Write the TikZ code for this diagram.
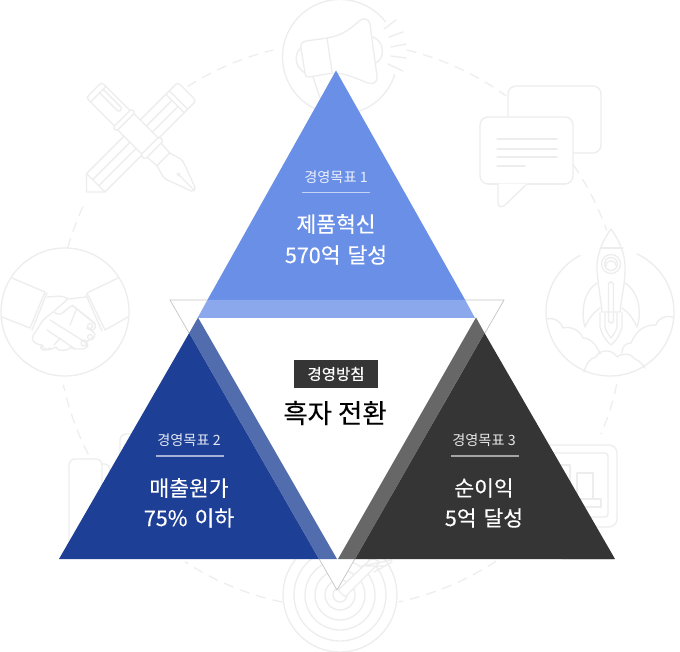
\documentclass[tikz,border=0pt]{standalone}
\usepackage{fontspec}
\newfontfamily\kr{Noto Sans CJK KR}[FakeBold=0.25]
\newfontfamily\krthin{Noto Sans CJK KR}
\newfontfamily\krbold{Noto Sans CJK KR}[FakeBold=0.6]
\newcommand\krbig{\kr\fontsize{21.5}{21.5}\selectfont\spaceskip 7pt\relax}
\definecolor{ic}{HTML}{EDEDED}
\definecolor{bluetop}{HTML}{6A8FE7}
\definecolor{blueband}{HTML}{8CA8EC}
\definecolor{navy}{HTML}{1E3F96}
\definecolor{navyband}{HTML}{526DAE}
\definecolor{coal}{HTML}{353535}
\definecolor{coalband}{HTML}{676767}
\definecolor{vline}{HTML}{C4C4C4}
\tikzset{
  icon/.style={draw=ic,line width=1.3pt,line join=round,line cap=round},
  ringdash/.style={draw=ic,line width=1.2pt,dash pattern=on 10pt off 7pt},
  smalllab/.style={font=\krthin\fontsize{14.2}{14.2}\selectfont,text=#1,inner sep=0pt},
  biglab/.style={font=\krbig,text=white,inner sep=0pt},
  rulel/.style={draw=#1,line width=1.6pt},
}
\begin{document}
\begin{tikzpicture}[x=1pt,y=-1pt]
\useasboundingbox (0,0) rectangle (680,652);
\fill[white] (0,0) rectangle (680,652);
% dashed ring
\foreach \a/\b in {237.4/256.4,195.8/206,152.8/167.8,101.8/123.2,56.5/78,12.1/22.7,-34.5/-19.5,-76.4/-54}
  \draw[ringdash] plot[domain=\a:\b,samples=24] ({340+283*cos(\x)},{325+283*sin(\x)});
% megaphone
\draw[icon] plot[domain=18:322,samples=80] ({340+57.5*cos(\x)},{57+57.5*sin(\x)});
\draw[icon,fill=white] (327,38) -- (306,41) .. controls (302,42) and (300,44) .. (301,48) -- (305,73) .. controls (305,76) and (306,77) .. (309,77) -- (333,73) .. controls (345,73) and (355,78) .. (368,83) .. controls (373,85) and (378,82) .. (377,76) -- (370,24) .. controls (369,19) and (364,17) .. (359,21) .. controls (350,30) and (340,36) .. (327,38) -- cycle;
\draw[icon] (327,38) -- (332,72);
\draw[icon] (301,48) .. controls (295,52) and (293,66) .. (305,73);
\draw[icon] (373,37) .. controls (385,42) and (385,58) .. (376,63);
\draw[icon] (313,77) -- (320,98);
\draw[icon] (384,29) -- (396,20) (389,37) -- (403,32) (391,47) -- (406,44) (391,56) -- (406,58) (388,64) -- (403,71);
% pencil
\begin{scope}[shift={(187,91.5)},rotate=-135]
\draw[icon] (12,-13) -- (3,-13) .. controls (0,-13) and (0,-11) .. (0,-9) -- (0,9) .. controls (0,11) and (0,13) .. (3,13) -- (12,13) -- cycle;
\draw[icon] (12,-13) -- (53,-13) (12,13) -- (53,13) (17,-13) -- (17,13);
\draw[icon] (17,-4.3) -- (53,-4.3) (17,4.3) -- (53,4.3);
\draw[icon] (77,-13) -- (129,-13) -- (142,0) -- (129,13) -- (77,13);
\draw[icon] (77,-4.3) -- (129,-4.3) (77,4.3) -- (129,4.3) (129,-13) -- (129,13);
\end{scope}
% fountain pen
\begin{scope}[shift={(94,90)},rotate=-45]
\draw[icon] (40,-11) -- (3,-11) .. controls (0,-11) and (0,-9) .. (0,-7) -- (0,7) .. controls (0,9) and (0,11) .. (3,11) -- (40,11);
\draw[icon] (6,-11) -- (6,11);
\draw[icon,rounded corners=1.5pt] (6,-7) -- (33,-7) -- (33,-2) -- (6,-2);
\draw[icon,rounded corners=1.5pt] (40,-13) rectangle (45,13);
\draw[icon] (45,-11.5) -- (79,-11.5) (45,11.5) -- (79,11.5);
\draw[icon,rounded corners=1.5pt] (79,-13) rectangle (85,13);
\draw[icon] (85,-10) -- (98,-9) (85,10) -- (98,9) (98,-9) -- (98,9);
\draw[icon,rounded corners=2pt] (98,-9) -- (112,-13) -- (142,-2) -- (142,2) -- (112,13) -- (98,9);
\draw[icon] (119.5,0) circle (1.5) (121,0) -- (141,0);
\end{scope}
% speech bubbles
\draw[icon,rounded corners=8pt] (508,86) rectangle (601,153);
\draw[icon,fill=white,rounded corners=8pt] (498,184) -- (480,184) -- (480,117) -- (573,117) -- (573,184) -- (528,184) -- cycle;
\draw[icon,fill=white] (488,184) -- (498,184) -- (498,203) .. controls (498,207) and (502,208) .. (505,205) -- (527,184) -- (565,184);
\draw[icon] (497,139) -- (557,139) (497,149) -- (557,149) (497,157) -- (557,157) (497,166) -- (525,166);
% handshake
\draw[icon] (65,312) circle (64);
\draw[icon] (12,278) -- (45,292) -- (30,328) -- (2,317);
\draw[icon] (47,293) -- (32,330);
\draw[icon] (118,278) -- (87,293) -- (105,330) -- (128,317);
\draw[icon] (86,295) -- (102,331);
\draw[icon,rounded corners=2pt] (47,297) -- (62,296) -- (68,299) -- (86,297);
\draw[icon,rounded corners=2pt] (68,299) -- (53,312) -- (60,315) -- (72,305) -- (95,324);
\draw[icon,rounded corners=2pt] (53,312) -- (43,320) -- (33,336);
\draw[icon] (95,324) .. controls (97,330) and (91,332) .. (87,328);
\draw[icon] (72,305) .. controls (80,312) and (92,320) .. (95,324);
\draw[icon] (50,320) -- (85,342);
\draw[icon] (47,330) -- (75,349);
\draw[icon] (87,328) .. controls (97,332) and (97,338) .. (90,340) -- (85,342) .. controls (90,345) and (88,347) .. (83,349) -- (75,349) -- (70,347);
\draw[icon] (76,310) -- (70,325) (60,338) -- (54,345);
\draw[icon] (33,336) .. controls (30,340) and (36,345) .. (42,345) .. controls (38,350) and (45,352) .. (50,348);
\draw[icon] (42,345) .. controls (45,352) and (50,350) .. (56,347) .. controls (56,351) and (66,352) .. (72,347);
\draw[icon] (90,326) circle (2.5) (90,337) circle (2.5) (84,343) circle (3);
% rocket
\draw[icon] plot[domain=-65:242,samples=90] ({610+64*cos(\x)},{312+64*sin(\x)});
\draw[icon] (597,283) .. controls (585,290) and (580,310) .. (585,327) .. controls (589,318) and (594,312) .. (600,308);
\draw[icon] (625,283) .. controls (637,290) and (643,310) .. (637,327) .. controls (633,318) and (628,312) .. (622,308);
\draw[icon] (611,229) .. controls (603,240) and (596,255) .. (597,270) .. controls (598,285) and (601,300) .. (602,312) -- (620,312) .. controls (621,300) and (625,285) .. (625,270) .. controls (626,255) and (619,240) .. (611,229) -- cycle;
\draw[icon] (600,248) -- (623,248);
\draw[icon] (611,264) circle (9.5) (611,264) circle (6.5);
\draw[icon] (606,266) .. controls (606,259) and (616,259) .. (616,266);
\draw[icon,rounded corners=2.4pt] (608.5,323) -- (608.5,282) -- (613.5,282) -- (613.5,323) -- cycle;
\draw[icon] (600,312) -- (600,327) .. controls (602,335) and (607,342) .. (611,345) .. controls (615,342) and (620,335) .. (622,327) -- (622,312);
\draw[icon] (605,313) -- (605,327) .. controls (606,332) and (609,335) .. (611,338) .. controls (613,335) and (616,332) .. (617,327) -- (617,313);
\draw[icon] (547,319) .. controls (555,317) and (561,322) .. (563,328) .. controls (570,326) and (580,330) .. (583,338) .. controls (590,338) and (597,345) .. (600,354);
\draw[icon] (584,372) .. controls (586,364) and (590,358) .. (596,357) .. controls (598,350) and (612,348) .. (617,357) .. controls (622,352) and (632,354) .. (635,359) .. controls (640,361) and (643,365) .. (645,368);
\draw[icon] (622,353) .. controls (622,347) and (625,343) .. (631,343) .. controls (633,338) and (638,330) .. (643,328) .. controls (648,325) and (653,325) .. (656,325) .. controls (658,318) and (666,315) .. (673,317);
% target
\foreach \r in {57,46,35,25,15,7}
  \draw[icon] (340,595) circle (\r);
\draw[icon,fill=white,rounded corners=2pt] (338,590) -- (372,558) -- (380,562) -- (345,597) -- cycle;
\draw[icon] (366,566) -- (386,566) (374,572) -- (392,562) (362,566) -- (392,560);
% left lower icon (mostly hidden)
\draw[icon,rounded corners=6pt] (69,545) -- (69,459) -- (102,459) -- (102,500);
\draw[icon,rounded corners=6pt] (102,464) -- (110,464) -- (110,500);
\draw[icon,rounded corners=6pt] (120,460) -- (120,434) -- (140,434) -- (140,470);
% right lower icon (mostly hidden)
\draw[icon,rounded corners=8pt] (540,445) -- (617,445) -- (617,527) -- (560,527);
\draw[icon,rounded corners=3pt] (540,453) -- (608,453) -- (608,517) -- (560,517);
\draw[icon] (577,473) rectangle (593,499);
\draw[icon] (555,465) rectangle (570,499);
\draw[icon] (550,499) rectangle (601,507);
\draw[icon] (562,559.5) -- (613,559.5);
% inverted triangle
\coordinate (vl) at (170,300);
\coordinate (vr) at (504,300);
\coordinate (vb) at (337,590);
\draw[fill=white,draw=vline,line width=.7pt] (vl) -- (vr) -- (vb) -- cycle;
% top triangle
\coordinate (ta) at (336,70.5);
\coordinate (tl) at (197.5,318);
\coordinate (tr) at (475,318);
\fill[bluetop] (ta) -- (207.4,300) -- (465.2,300) -- cycle;
\fill[blueband] (207.4,300) -- (465.2,300) -- (tr) -- (tl) -- cycle;
% left triangle
\fill[navy] (189.2,333) -- (319,559) -- (59,559) -- cycle;
\fill[navyband] (198,317.5) -- (337,559) -- (319,559) -- (189.2,333) -- cycle;
% right triangle
\fill[coal] (484.5,333) -- (615,559) -- (355,559) -- cycle;
\fill[coalband] (476,317.5) -- (484.5,333) -- (355,559) -- (338,559) -- cycle;
% top labels
\node[smalllab=white!88!bluetop] (g1) at (336,177) {경영목표 1};
\coordinate (g1a) at (302,192.7); \coordinate (g1b) at (370,192.7);
\draw[rulel=white!60!bluetop] (g1a) -- (g1b);
\node[biglab] (g1t) at (336,224) {제품혁신};
\node[biglab] (g1u) at (336,255) {570억 달성};
% left labels
\node[smalllab=white!88!navy] (g2) at (189,440) {경영목표 2};
\coordinate (g2a) at (156,456); \coordinate (g2b) at (224,456);
\draw[rulel=white!60!navy] (g2a) -- (g2b);
\node[biglab] (g2t) at (189,488) {매출원가};
\node[biglab] (g2u) at (189,518) {75\% 이하};
% right labels
\node[smalllab=white!88!coal] (g3) at (484,440) {경영목표 3};
\coordinate (g3a) at (451,456); \coordinate (g3b) at (519,456);
\draw[rulel=white!55!coal] (g3a) -- (g3b);
\node[biglab] (g3t) at (484,488) {순이익};
\node[biglab] (g3u) at (484,518) {5억 달성};
% centre
\node[fill=coal,minimum width=84pt,minimum height=28pt,inner sep=0pt,text=white,font=\krbold\fontsize{15.5}{15.5}\selectfont] (pol) at (336,374) {경영방침};
\node[inner sep=0pt,text=black,font=\kr\fontsize{26.5}{26.5}\selectfont] (goal) at (335,413) {흑자 전환};
\end{tikzpicture}
\end{document}
